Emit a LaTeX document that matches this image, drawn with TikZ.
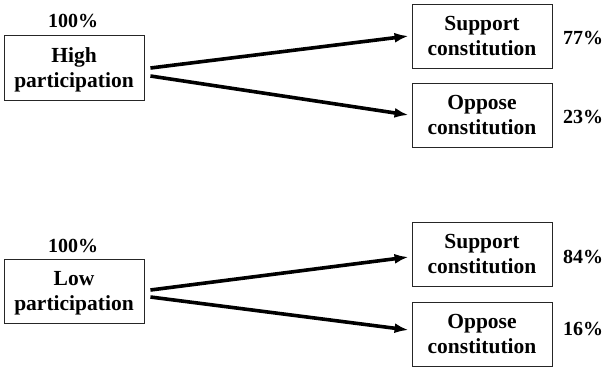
\documentclass[tikz,border=0pt]{standalone}
\usepackage{fontspec}
\setmainfont{Liberation Serif}
\usetikzlibrary{arrows.meta,calc}
\begin{document}
\begin{tikzpicture}[x=1pt,y=-1pt,
  box/.style={draw=black!85,line width=0.9pt,minimum width=140pt,minimum height=64pt,inner sep=0pt,text depth=0pt,align=center,font=\fontsize{21.5}{24.5}\selectfont\bfseries},
  pct/.style={inner sep=0pt,font=\fontsize{20}{22}\selectfont\bfseries},
  arr/.style={line width=3.6pt,-{Latex[length=14pt,width=10pt]}}]
\useasboundingbox (0,0) rectangle (605,368);
% upper
\node[box,minimum height=65pt] (high) at (74,67.5) {High\\participation};
\node[pct] (p1) at (73,21) {100\%};
\node[box] (s1) at (482,36) {Support\\constitution};
\node[box] (o1) at (482,115) {Oppose\\constitution};
\node[pct] (q1) at (583,38) {77\%};
\node[pct] (q2) at (583,117) {23\%};
\draw[arr] ($(high.east)+(6,0.5)$) -- ($(s1.west)+(-3,0)$);
\draw[arr] ($(high.east)+(6,8.5)$) -- ($(o1.west)+(-3,0)$);
% lower
\node[box] (low) at (74,291) {Low\\participation};
\node[pct] (p2) at (73,245.5) {100\%};
\node[box] (s2) at (482,254) {Support\\constitution};
\node[box] (o2) at (482,334) {Oppose\\constitution};
\node[pct] (q3) at (583,256.5) {84\%};
\node[pct] (q4) at (583,328.5) {16\%};
\draw[arr] ($(low.east)+(6,-1)$) -- ($(s2.west)+(-3,3)$);
\draw[arr] ($(low.east)+(6,6)$) -- ($(o2.west)+(-3,-4)$);
\end{tikzpicture}
\end{document}
